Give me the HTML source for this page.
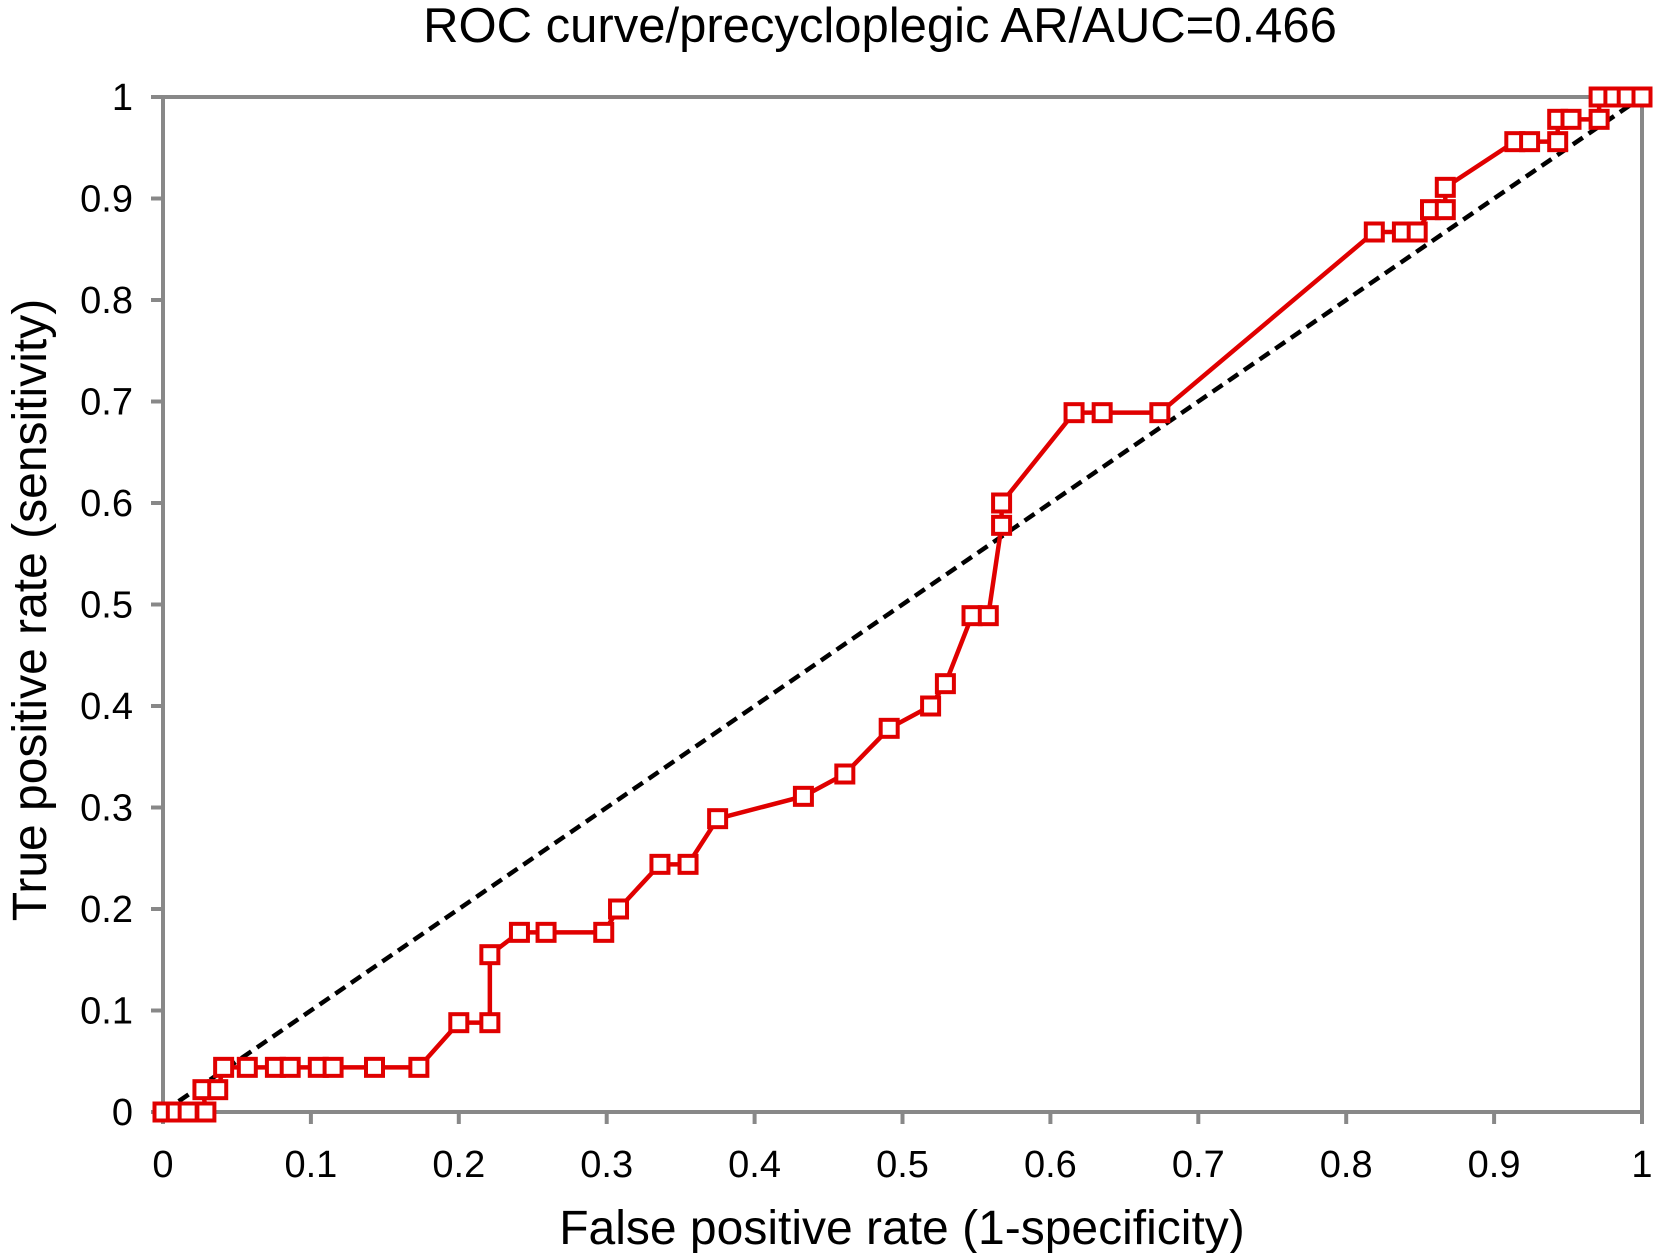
<!DOCTYPE html>
<html><head><meta charset="utf-8"><style>
html,body{margin:0;padding:0;background:#fff;}
svg{display:block;font-family:"Liberation Sans",Arial,sans-serif;}
</style></head><body>
<svg id="chart" width="1657" height="1253" viewBox="0 0 1657 1253" xmlns="http://www.w3.org/2000/svg">
<text x="880" y="42" font-size="49" text-anchor="middle" fill="#000">ROC curve/precycloplegic AR/AUC=0.466</text>
<text x="902" y="1244" font-size="48" text-anchor="middle" fill="#000">False positive rate (1-specificity)</text>
<text transform="translate(46,610) rotate(-90)" font-size="48" text-anchor="middle" fill="#000">True positive rate (sensitivity)</text>
<g id="axes"></g>
<g id="marks"></g>
</svg>
<script>
const xTicks=[0,0.1,0.2,0.3,0.4,0.5,0.6,0.7,0.8,0.9,1];
const xTickLabels=["0","0.1","0.2","0.3","0.4","0.5","0.6","0.7","0.8","0.9","1"];
const yTicks=[0,0.1,0.2,0.3,0.4,0.5,0.6,0.7,0.8,0.9,1];
const yTickLabels=["0","0.1","0.2","0.3","0.4","0.5","0.6","0.7","0.8","0.9","1"];
const fpr=[0,0.009,0.017,0.029,0.027,0.037,0.041,0.057,0.076,0.086,0.105,0.115,0.143,0.173,0.2,0.221,0.221,0.241,0.259,0.298,0.308,0.336,0.355,0.375,0.433,0.461,0.491,0.519,0.529,0.547,0.558,0.567,0.567,0.616,0.635,0.674,0.819,0.838,0.848,0.857,0.867,0.867,0.914,0.924,0.943,0.943,0.952,0.971,0.971,0.981,0.99,1];
const tpr=[0,0,0,0,0.022,0.022,0.044,0.044,0.044,0.044,0.044,0.044,0.044,0.044,0.088,0.088,0.155,0.177,0.177,0.177,0.2,0.244,0.244,0.289,0.311,0.333,0.378,0.4,0.422,0.489,0.489,0.578,0.6,0.689,0.689,0.689,0.867,0.867,0.867,0.889,0.889,0.911,0.956,0.956,0.956,0.978,0.978,0.978,1,1,1,1];
const diagX=[0,1];
const diagY=[0,1];

const X0=163,X1=1642,Y0=1112,Y1=97;
const sx=v=>X0+v*(X1-X0);
const sy=v=>Y0-v*(Y0-Y1);
const NS="http://www.w3.org/2000/svg";
function mk(tag,attrs,parent){const e=document.createElementNS(NS,tag);for(const k in attrs)e.setAttribute(k,attrs[k]);parent.appendChild(e);return e;}
const axes=document.getElementById('axes'),marks=document.getElementById('marks');

const frame=mk('rect',{x:X0,y:Y1,width:X1-X0,height:Y0-Y1,fill:'none',stroke:'#888',"stroke-width":4},axes);


xTicks.forEach((v,i)=>{
  const t=mk('line',{x1:sx(v),x2:sx(v),y1:Y0,y2:Y0+12,stroke:'#888',"stroke-width":4},axes);
  
  
  const l=mk('text',{x:sx(v),y:1177,"font-size":38,"text-anchor":"middle",fill:'#000'},axes);
  l.textContent=xTickLabels[i];
  
  
});
yTicks.forEach((v,i)=>{
  const t=mk('line',{x1:X0-12,x2:X0,y1:sy(v),y2:sy(v),stroke:'#888',"stroke-width":4},axes);
  
  
  const l=mk('text',{x:133,y:sy(v)+13,"font-size":38,"text-anchor":"end",fill:'#000'},axes);
  l.textContent=yTickLabels[i];
  
  
});
const diag=mk('line',{x1:sx(diagX[0]),y1:sy(diagY[0]),x2:sx(diagX[1]),y2:sy(diagY[1]),stroke:'#000',"stroke-width":4.5,"stroke-dasharray":"12,7"},marks);


const pts=fpr.map((v,i)=>sx(v)+','+sy(tpr[i])).join(' ');
const line=mk('polyline',{points:pts,fill:'none',stroke:'#e00000',"stroke-width":4.5,"stroke-linejoin":"round"},marks);


fpr.forEach((v,i)=>{
  const s=17;
  const r=mk('rect',{x:sx(v)-s/2,y:sy(tpr[i])-s/2,width:s,height:s,fill:'#fff',stroke:'#e00000',"stroke-width":4},marks);
  
  
});
</script>
</body></html>
